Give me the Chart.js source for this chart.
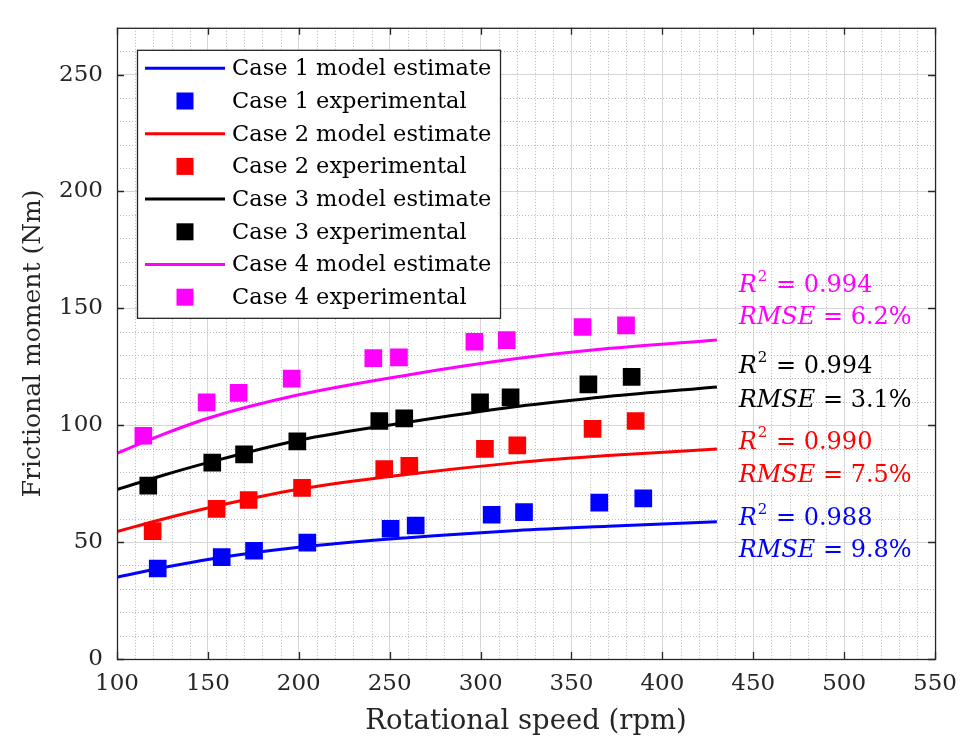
<!DOCTYPE html>
<html><head><meta charset="utf-8">
<script src="https://cdn.jsdelivr.net/npm/chart.js@4/dist/chart.umd.min.js"></script>
<style>html,body{margin:0;padding:0;background:#fff;}#wrap{width:968px;height:743px;}</style>
</head><body><div id="wrap"><canvas id="c" width="968" height="743"></canvas></div>
<script>
// ---------- data ----------
const caseNames = ['Case 1', 'Case 2', 'Case 3', 'Case 4'];
const caseColors = ['#0000ff', '#ff0000', '#000000', '#ff00ff'];

const modelSpeed = [100, 125, 150, 200, 260, 320, 370, 430];
const model1 = [35.0, 39.0, 42.6, 47.8, 51.9, 55.0, 56.8, 58.7];
const model2 = [54.5, 59.8, 64.6, 72.6, 79.0, 84.0, 87.0, 89.8];
const model3 = [72.5, 78.5, 84.0, 93.6, 101.3, 108.0, 112.3, 116.4];
const model4 = [88.0, 96.0, 103.0, 113.0, 121.5, 128.5, 132.8, 136.5];

const exp1Speed = [122.4, 157.6, 175.4, 204.7, 250.5, 264.3, 306.1, 323.9, 365.3, 389.5];
const exp1Moment = [38.7, 43.6, 46.3, 49.8, 55.7, 57.1, 61.7, 62.8, 66.9, 68.7];
const exp2Speed = [119.6, 154.8, 172.4, 201.8, 247.0, 260.8, 302.4, 320.2, 361.6, 385.3];
const exp2Moment = [54.7, 64.2, 68.0, 73.2, 81.2, 82.6, 89.9, 91.4, 98.4, 101.8];
const exp3Speed = [117.2, 152.4, 169.9, 199.2, 244.3, 258.0, 299.7, 316.5, 359.3, 383.1];
const exp3Moment = [74.2, 84.0, 87.5, 93.1, 101.8, 102.9, 109.8, 111.9, 117.5, 120.7];
const exp4Speed = [114.5, 149.3, 166.9, 196.1, 241.0, 255.1, 296.6, 314.4, 356.1, 380.0];
const exp4Moment = [95.5, 109.8, 113.8, 119.9, 128.7, 129.0, 135.7, 136.4, 142.0, 142.7];

const r2Values = ['0.988', '0.990', '0.994', '0.994'];
const rmseValues = ['9.8%', '7.5%', '3.1%', '6.2%'];

const xTickValues = [100, 150, 200, 250, 300, 350, 400, 450, 500, 550];
const yTickValues = [0, 50, 100, 150, 200, 250];
const xTitle = 'Rotational speed (rpm)';
const yTitle = 'Frictional moment (Nm)';
// --------------------------------------------------

const FONT = "'DejaVu Serif', serif";
const models = [model1, model2, model3, model4];
const expX = [exp1Speed, exp2Speed, exp3Speed, exp4Speed];
const expY = [exp1Moment, exp2Moment, exp3Moment, exp4Moment];

const pts = (xs, ys) => xs.map((x, i) => ({x: x, y: ys[i]}));
const datasets = [];
for (let i = 0; i < 4; i++) {
  datasets.push({
    label: caseNames[i] + ' model estimate', kind: 'line',
    data: pts(modelSpeed, models[i]), showLine: true,
    borderColor: caseColors[i], backgroundColor: caseColors[i],
    borderWidth: 3, pointRadius: 0, cubicInterpolationMode: 'monotone', order: 2
  });
  datasets.push({
    label: caseNames[i] + ' experimental', kind: 'marker',
    data: pts(expX[i], expY[i]), showLine: false,
    borderColor: caseColors[i], backgroundColor: caseColors[i],
    pointStyle: 'rect', pointRadius: 12.5, pointHoverRadius: 12.5, borderWidth: 0, order: 1
  });
}

// annotation placements (data coords)
const annoX = 442;
const annoY = [[57.8, 44.0], [90.5, 76.2], [122.7, 108.5], [157.5, 144.0]];

const gridPlugin = {
  id: 'minorGrid',
  beforeDatasetsDraw(chart) {
    const {ctx, chartArea: a, scales: {x, y}} = chart;
    ctx.save();
    ctx.strokeStyle = '#b8b8b8';
    ctx.lineWidth = 1;
    ctx.setLineDash([1, 2]);
    for (let v = 110; v < 550; v += 10) {
      if (v % 50 === 0) continue;
      const px = Math.round(x.getPixelForValue(v)) + 0.5;
      ctx.beginPath(); ctx.moveTo(px, a.top); ctx.lineTo(px, a.bottom); ctx.stroke();
    }
    for (let v = 10; v < 270; v += 10) {
      if (v % 50 === 0) continue;
      const py = Math.round(y.getPixelForValue(v)) + 0.5;
      ctx.beginPath(); ctx.moveTo(a.left, py); ctx.lineTo(a.right, py); ctx.stroke();
    }
    ctx.restore();
  },
  afterDatasetsDraw(chart) {
    const {ctx, chartArea: a, scales: {x, y}} = chart;
    ctx.save();
    ctx.strokeStyle = '#262626';
    ctx.lineWidth = 1.3;
    ctx.strokeRect(a.left + 0.5, a.top + 0.5, a.right - a.left, a.bottom - a.top);
    const tl = 7;
    xTickValues.forEach(v => {
      const px = Math.round(x.getPixelForValue(v)) + 0.5;
      ctx.beginPath();
      ctx.moveTo(px, a.bottom); ctx.lineTo(px, a.bottom - tl);
      ctx.moveTo(px, a.top); ctx.lineTo(px, a.top + tl);
      ctx.stroke();
    });
    yTickValues.forEach(v => {
      const py = Math.round(y.getPixelForValue(v)) + 0.5;
      ctx.beginPath();
      ctx.moveTo(a.left, py); ctx.lineTo(a.left + tl, py);
      ctx.moveTo(a.right, py); ctx.lineTo(a.right - tl, py);
      ctx.stroke();
    });
    // annotations
    ctx.textBaseline = 'middle';
    ctx.textAlign = 'left';
    for (let i = 0; i < 4; i++) {
      const px = x.getPixelForValue(annoX);
      const y1 = y.getPixelForValue(annoY[i][0]) - 5;
      const y2 = y.getPixelForValue(annoY[i][1]) - 5;
      ctx.fillStyle = caseColors[i];
      let cx = px;
      ctx.font = "italic 24px " + FONT;
      ctx.fillText('R', cx, y1); cx += ctx.measureText('R').width;
      ctx.font = "15px " + FONT;
      ctx.fillText('2', cx + 1, y1 - 9); cx += ctx.measureText('2').width + 2;
      ctx.font = "24px " + FONT;
      ctx.fillText(' = ' + r2Values[i], cx, y1);
      cx = px;
      ctx.font = "italic 24px " + FONT;
      ctx.fillText('RMSE', cx, y2); cx += ctx.measureText('RMSE').width;
      ctx.font = "24px " + FONT;
      ctx.fillText(' = ' + rmseValues[i], cx, y2);
    }
    ctx.restore();
  },
  afterDraw(chart) {
    const {ctx, chartArea: a} = chart;
    const bx = a.left + 20, by = a.top + 22, bw = 363, bh = 268;
    ctx.save();
    ctx.fillStyle = '#ffffff';
    ctx.fillRect(bx, by, bw, bh);
    ctx.strokeStyle = '#262626';
    ctx.lineWidth = 1.3;
    ctx.strokeRect(bx + 0.5, by + 0.5, bw, bh);
    ctx.font = "22.5px " + FONT;
    ctx.textBaseline = 'middle';
    ctx.textAlign = 'left';
    chart.data.datasets.forEach((ds, i) => {
      const cy = by + 18.5 + i * 32.7;
      if (ds.kind === 'line') {
        ctx.strokeStyle = ds.borderColor;
        ctx.lineWidth = 3;
        ctx.beginPath(); ctx.moveTo(bx + 8, cy); ctx.lineTo(bx + 88, cy); ctx.stroke();
      } else {
        ctx.fillStyle = ds.backgroundColor;
        ctx.fillRect(bx + 48 - 8.5, cy - 8.5, 17, 17);
      }
      ctx.fillStyle = '#000000';
      ctx.fillText(ds.label, bx + 95, cy + 1);
    });
    ctx.restore();
  }
};

new Chart(document.getElementById('c'), {
  type: 'scatter',
  data: {datasets: datasets},
  plugins: [gridPlugin],
  options: {
    responsive: false, animation: false, devicePixelRatio: 1,
    layout: {padding: {top: 14, right: 31, left: 0, bottom: 0}},
    plugins: {legend: {display: false}, tooltip: {enabled: false}},
    scales: {
      x: {
        type: 'linear', min: 100, max: 550,
        afterBuildTicks: s => { s.ticks = xTickValues.map(v => ({value: v})); },
        afterFit: s => { s.height = 84; },
        ticks: {color: '#262626', font: {family: FONT, size: 23}, padding: 11, maxRotation: 0},
        grid: {color: '#d6d6d6', lineWidth: 1, drawTicks: false},
        border: {display: false},
        title: {display: true, text: xTitle, color: '#262626', font: {family: FONT, size: 27.5, lineHeight: 1.2}, padding: {top: 0, bottom: 5}}
      },
      y: {
        type: 'linear', min: 0, max: 270,
        afterBuildTicks: s => { s.ticks = yTickValues.map(v => ({value: v})); },
        afterFit: s => { s.width = 117; },
        ticks: {color: '#262626', font: {family: FONT, size: 23}, padding: 14},
        grid: {color: '#d6d6d6', lineWidth: 1, drawTicks: false},
        border: {display: false},
        title: {display: true, text: yTitle, color: '#262626', font: {family: FONT, size: 25, lineHeight: 1.2}, padding: {top: 18, bottom: 0}}
      }
    }
  }
});
</script></body></html>
